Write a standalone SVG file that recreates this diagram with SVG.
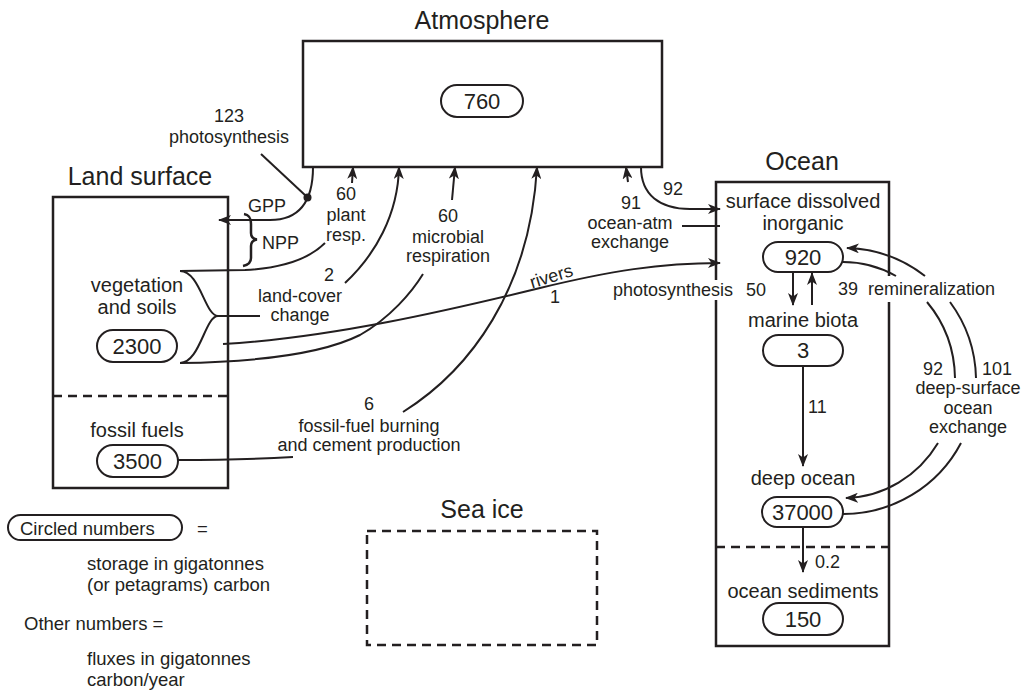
<svg xmlns="http://www.w3.org/2000/svg" width="1021" height="700" viewBox="0 0 1021 700">
<defs>
<marker id="ah" viewBox="0 0 13 10" refX="12" refY="5" markerWidth="13" markerHeight="10" markerUnits="userSpaceOnUse" orient="auto">
<path d="M0,0 L13,5 L0,10 L3.5,5 Z" fill="#231f20"/>
</marker>
</defs>
<style>
text{font-family:"Liberation Sans",Arial,sans-serif;fill:#231f20}
.title{font-size:25px;text-anchor:middle}
.node{font-size:20px;text-anchor:middle}
.num{font-size:22px;text-anchor:middle}
.flux{font-size:18px;text-anchor:middle}
.fs{font-size:18px}
.leg{font-size:18.5px}
.box{fill:none;stroke:#231f20;stroke-width:2.5}
.dash{fill:none;stroke:#231f20;stroke-width:2.5;stroke-dasharray:9 6}
.pill{fill:#fff;stroke:#231f20;stroke-width:2}
.c{fill:none;stroke:#231f20;stroke-width:2}
.a{fill:none;stroke:#231f20;stroke-width:2;marker-end:url(#ah)}
</style>

<g id="atmosphere">
<text class="title" x="482" y="29">Atmosphere</text>
<rect class="box" x="303" y="41" width="359" height="126"/>
<rect class="pill" x="441" y="85" width="82" height="32" rx="16"/>
<text class="num" x="482" y="109">760</text>
</g>

<g id="land">
<text class="title" x="140" y="185">Land surface</text>
<rect class="box" x="53" y="197" width="175" height="291"/>
<line class="dash" x1="53" y1="396" x2="228" y2="396"/>
<text class="node" x="137" y="292">vegetation</text>
<text class="node" x="137" y="314">and soils</text>
<rect class="pill" x="97" y="330" width="80" height="32" rx="16"/>
<text class="num" x="137" y="354">2300</text>
<text class="node" x="137" y="437">fossil fuels</text>
<rect class="pill" x="97" y="445" width="81" height="32" rx="16"/>
<text class="num" x="137.5" y="469">3500</text>
</g>

<g id="ocean">
<text class="title" x="802" y="170">Ocean</text>
<path class="box" d="M716,280 L716,182 L889,182 L889,276 M889,302 L889,646 L716,646 L716,300"/>
<line class="dash" x1="716" y1="547" x2="889" y2="547"/>
<text class="node" x="803" y="208">surface dissolved</text>
<text class="node" x="803" y="230">inorganic</text>
<rect class="pill" x="763" y="242" width="80" height="30" rx="15"/>
<text class="num" x="803" y="265">920</text>
<text class="node" x="803" y="327">marine biota</text>
<rect class="pill" x="763" y="335" width="80" height="31" rx="15.5"/>
<text class="num" x="803" y="358">3</text>
<text class="node" x="803" y="485">deep ocean</text>
<rect class="pill" x="762" y="497" width="81" height="30" rx="15"/>
<text class="num" x="802.5" y="520">37000</text>
<text class="node" x="803" y="598">ocean sediments</text>
<rect class="pill" x="763" y="603" width="80" height="32" rx="16"/>
<text class="num" x="803" y="627">150</text>
</g>

<g id="seaice">
<text class="title" x="482" y="518">Sea ice</text>
<rect class="dash" x="367" y="531" width="230" height="114"/>
</g>

<g id="connectors">
<path class="a" d="M313,167 Q313,220 270,220 L219,220"/>
<circle cx="307.5" cy="197.5" r="4" fill="#231f20"/>
<line class="c" x1="261" y1="154" x2="306" y2="196"/>
<path class="c" d="M180,271 L245,270 C285,268 310,258 325,243"/>
<path class="c" d="M180,271 C200,271 205,316 218,316 C205,316 200,363 180,363"/>
<path class="a" d="M352,183 L353,167"/>
<path class="c" d="M218,316 L260,316"/>
<path class="a" d="M345,283 C375,255 398,215 399,167"/>
<path class="c" d="M180,363 C250,362 320,355 360,335 C390,318 412,292 423,274"/>
<path class="a" d="M452,200 L455,167"/>
<path class="a" d="M223,344 C330,338 450,310 540,288 C610,271 660,263 720,263"/>
<path class="c" d="M178,460 C220,460 260,459 293,457"/>
<path class="a" d="M403,412 C470,370 530,290 537,167"/>
<path class="c" d="M720,226 L682,226"/>
<path class="a" d="M628,182 L626,167"/>
<path class="a" d="M641,167 C641,195 660,209 690,209 L720,209"/>
<path class="a" d="M793,272 L793,305"/>
<path class="a" d="M812,305 L812,273"/>
<path class="a" d="M803,366 L803,466"/>
<path class="a" d="M803,527 L803,572"/>
<path class="c" d="M843,262 A112,118 0 0 1 896,276"/>
<path class="c" d="M927,302 A112,118 0 0 1 955,378"/>
<path class="a" d="M938,443 A112,118 0 0 1 846,498"/>
<path class="c" d="M843,514 A133,133 0 0 0 961,443"/>
<path class="c" d="M976,378 A133,133 0 0 0 950,302"/>
<path class="a" d="M925,276 A133,133 0 0 0 847,248"/>
</g>

<g id="labels">
<text class="flux" x="229" y="122">123</text>
<text class="flux" x="229" y="143">photosynthesis</text>
<text class="fs" x="248" y="212">GPP</text>
<path d="M244,214 C250,215 251,219 251,224 L251,233 C251,237 253,239 257,239.5 C253,240 251,242 251,246 L251,258 C251,263 248,265 243,266" fill="none" stroke="#231f20" stroke-width="2.5"/>
<text class="fs" x="262" y="249">NPP</text>
<text class="flux" x="346" y="200">60</text>
<text class="flux" x="346" y="221">plant</text>
<text class="flux" x="346" y="241">resp.</text>
<text class="flux" x="329" y="281">2</text>
<text class="flux" x="300" y="302">land-cover</text>
<text class="flux" x="300" y="321">change</text>
<text class="flux" x="448" y="222">60</text>
<text class="flux" x="448" y="243">microbial</text>
<text class="flux" x="448" y="262">respiration</text>
<text class="flux" x="553" y="282" transform="rotate(-17 553 282)">rivers</text>
<text class="flux" x="555" y="303">1</text>
<text class="flux" x="369" y="410">6</text>
<text class="flux" x="369" y="432">fossil-fuel burning</text>
<text class="flux" x="369" y="451">and cement production</text>
<text class="flux" x="631" y="209">91</text>
<text class="flux" x="630" y="229">ocean-atm</text>
<text class="flux" x="630" y="248">exchange</text>
<text class="flux" x="673" y="195">92</text>
<text class="fs" x="733" y="296" text-anchor="end">photosynthesis</text>
<text class="fs" x="746" y="296">50</text>
<text class="fs" x="838" y="295">39</text>
<text class="fs" x="868" y="295">remineralization</text>
<text class="fs" x="808" y="413">11</text>
<text class="fs" x="815" y="568">0.2</text>
<text class="flux" x="933" y="375">92</text>
<text class="flux" x="997" y="375">101</text>
<text class="flux" x="968" y="394">deep-surface</text>
<text class="flux" x="968" y="414">ocean</text>
<text class="flux" x="968" y="433">exchange</text>
</g>

<g id="legend">
<rect class="pill" x="8" y="515" width="174" height="25" rx="12.5"/>
<text class="leg" x="20" y="535">Circled numbers</text>
<text class="leg" x="197" y="535">=</text>
<text class="leg" x="87" y="570">storage in gigatonnes</text>
<text class="leg" x="87" y="591">(or petagrams) carbon</text>
<text class="leg" x="24" y="630">Other numbers =</text>
<text class="leg" x="87" y="665">fluxes in gigatonnes</text>
<text class="leg" x="87" y="686">carbon/year</text>
</g>
</svg>
